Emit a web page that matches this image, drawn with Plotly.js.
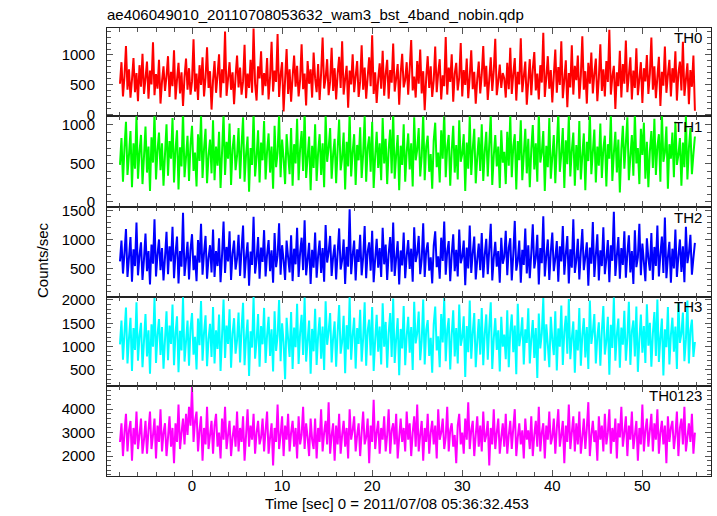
<!DOCTYPE html>
<html>
<head>
<meta charset="utf-8">
<script src="https://cdn.plot.ly/plotly-3.0.1.min.js"></script>
<style>html,body{margin:0;padding:0;background:#fff;}#chart{width:717px;height:516px;}</style>
</head>
<body>
<div id="chart"></div>
<script>
// Light-curve bins: start time and bin width (seconds)
const tStart = -8;
const binSec = 1 / 6;

const bandNames = ["TH0", "TH1", "TH2", "TH3", "TH0123"];
const bandColors = ["#ff0000", "#00ff00", "#0000ff", "#00ffff", "#ff00ff"];

const th0 = [
520,880,310,640,1150,420,760,290,590,950,380,700,230,830,470,1020,
350,610,890,270,740,510,1210,330,680,440,920,190,560,810,400,650,
980,300,720,480,1080,260,590,870,360,710,150,630,940,420,780,340,
560,1260,390,690,250,830,500,960,310,620,1130,450,730,90,580,900,
370,660,1010,290,760,530,1390,320,600,880,420,710,180,640,990,460,
790,340,560,1170,280,690,450,920,370,1440,520,240,810,610,1060,330,
700,480,950,260,630,1220,390,740,550,1350,300,670,880,60,590,1100,
350,760,220,640,990,470,820,310,580,1180,430,690,160,900,520,760,
290,1040,610,380,850,250,700,1290,440,620,930,330,560,1120,400,780,
260,690,970,450,1230,340,600,820,120,740,510,1010,380,650,900,300,
560,1160,420,790,270,630,960,480,1330,350,710,200,590,860,440,1070,
320,680,920,270,750,540,1190,390,610,850,170,700,1020,460,580,880,
340,770,1250,410,640,290,900,520,1090,360,730,80,620,980,450,810,
300,570,1140,380,700,930,260,660,480,1300,340,790,550,1010,220,690,
870,410,620,1200,310,750,500,940,280,640,1080,430,720,190,600,890,
360,680,1150,470,820,250,590,960,400,730,1270,330,560,840,450,700,
610,290,870,430,1120,350,680,950,240,720,510,1280,380,640,890,170,
560,930,330,760,1050,410,690,260,830,540,1370,300,620,980,440,750,
210,660,1090,370,800,500,1230,280,590,910,130,700,460,1160,340,820,
580,990,270,650,1310,420,730,190,870,520,1040,360,690,940,230,610,
1180,400,760,310,900,550,1420,340,640,820,100,710,480,1070,290,850,
520,1240,380,670,960,260,740,450,1110,330,600,880,200,780,560,1000,
350,690,1290,420,810,280,630,970,150,720,490,1140,370,660,920,310,
780,540,1060,240,700,890,410,1220,320,590,860,180,750,470,990,70
];
const th1 = [
480,830,260,700,1040,350,610,920,190,760,430,1120,300,650,870,230,
590,980,380,720,140,840,510,1160,290,670,900,410,760,210,620,1010,
340,790,560,1090,250,680,930,160,710,460,1180,320,580,860,270,740,
990,400,640,200,880,530,1130,310,690,950,240,600,810,370,1060,280,
720,470,910,180,650,1150,350,780,560,1020,220,690,870,410,600,960,
300,740,1100,260,620,850,130,700,480,1170,330,580,930,250,770,540,
1050,290,660,890,380,720,170,990,450,640,1140,320,810,560,230,880,
610,360,960,210,750,500,1080,280,690,920,400,1190,310,580,850,150,
730,440,1010,270,640,880,350,760,190,1130,520,700,960,300,620,820,
240,690,1070,410,570,900,160,780,460,1160,330,650,880,220,740,540,
970,310,620,1120,260,700,850,390,1040,180,590,910,440,760,280,1090,
500,820,230,680,940,370,1170,300,610,870,150,730,480,1010,260,650,
890,420,760,200,1100,540,680,960,330,590,1150,280,720,860,390,620,
170,800,1030,450,640,250,930,560,1180,320,710,870,210,660,990,380,
740,290,1060,520,620,880,140,770,430,1120,350,690,950,240,580,840,
400,1010,270,660,910,330,750,1140,220,600,870,460,720,180,930,510,
650,230,910,470,1130,320,720,880,160,790,540,1060,280,610,950,370,
820,190,680,1000,420,760,260,1150,510,640,920,140,730,450,1090,300,
580,870,240,710,1170,390,620,960,180,800,490,1120,330,670,900,210,
740,410,1050,290,600,890,150,780,530,1180,360,650,940,250,720,470,
1020,310,690,860,200,750,560,1140,270,630,910,380,810,120,680,990,
430,760,1100,280,590,870,340,1160,500,700,230,950,610,1030,300,780,
190,660,920,440,1080,350,720,880,260,1170,520,640,980,170,750,560,
900,320,1040,480,610,830,210,770,450,1130,290,700,960,360,620,850
];
const th2 = [
620,980,410,760,1180,350,690,1040,270,830,540,1290,380,720,950,300,
660,1100,450,800,220,910,580,1350,360,740,1000,470,850,290,690,1130,
400,880,620,1220,330,760,1050,240,800,530,1460,370,650,960,310,820,
1090,470,720,280,990,600,1270,390,770,1060,320,680,900,430,1170,350,
800,540,1020,260,730,1310,420,870,620,1140,300,760,980,480,670,1080,
370,830,1240,330,700,950,200,790,560,1390,410,650,1040,320,860,610,
1160,360,740,990,450,810,250,1110,520,720,1280,390,900,640,300,980,
690,430,1070,280,840,570,1200,350,770,1030,470,1330,380,650,940,230,
820,510,1120,340,720,980,420,850,270,1250,600,780,1060,370,700,910,
310,770,1190,480,640,1000,230,870,530,1520,400,730,980,290,830,610,
1080,380,690,1230,330,790,950,460,1150,260,660,1010,510,850,350,1200,
570,910,300,760,1040,440,1290,370,680,970,220,810,550,1120,330,720,
990,490,840,270,1210,610,760,1060,400,660,1280,350,800,950,460,690,
240,890,1140,520,710,320,1030,630,1310,390,790,970,280,740,1090,450,
820,360,1170,590,700,980,210,860,500,1240,420,770,1050,310,650,930,
470,1110,340,740,1010,400,830,1270,290,680,960,530,800,250,1030,580,
700,1150,380,860,1020,290,740,1320,460,630,980,250,820,560,1190,410,
900,330,760,1260,500,680,1080,220,850,590,1400,360,710,1000,300,790,
1120,450,670,970,270,880,620,1230,390,750,1060,240,830,510,1350,420,
640,1010,310,780,1180,470,700,950,200,860,580,1300,350,730,1090,290,
810,540,1210,400,660,990,260,900,630,1480,370,720,1040,320,850,560,
1140,340,760,1070,430,800,230,1160,520,690,1270,380,930,610,280,1020,
670,460,1110,300,870,540,1240,360,740,1050,420,1380,330,690,960,250,
840,500,1170,350,710,1000,440,880,260,1220,590,760,1080,390,680,940
];
const th3 = [
1050,1560,720,1290,1840,640,1180,1620,480,1400,930,1950,700,1230,1510,560,
1120,1700,790,1350,420,1480,1000,2040,650,1260,1590,820,1420,530,1150,1760,
710,1450,1060,1900,600,1290,1650,450,1340,920,2060,680,1110,1560,590,1380,
1720,830,1210,510,1600,1030,1980,700,1300,1670,580,1160,1490,780,1850,640,
1350,950,1690,480,1240,2010,760,1450,1060,1800,550,1280,1610,850,1140,1730,
660,1390,1940,600,1200,1580,370,1330,980,2070,740,1120,1700,570,1440,1050,
1830,650,1250,1640,800,1370,470,1760,910,1230,2000,690,1500,1090,300,1620,
1170,780,1740,520,1410,990,1920,630,1300,1680,820,2050,680,1130,1560,420,
1380,900,1810,610,1240,1630,740,1430,500,1970,1040,1330,1720,660,1190,1540,
570,1310,1890,850,1100,1660,430,1460,940,2060,720,1250,1620,530,1400,1060,
1790,680,1180,1950,590,1340,1580,810,1850,480,1140,1680,890,1430,620,1930,
1000,1530,550,1300,1720,780,2030,650,1170,1610,390,1380,960,1870,600,1240,
1640,870,1420,500,1960,1070,1290,1750,710,1130,2010,620,1360,1570,800,1190,
440,1480,1860,920,1220,560,1700,1090,2040,690,1350,1610,510,1260,1780,790,
1400,640,1900,1020,1200,1650,350,1440,880,1990,740,1300,1720,560,1110,1590,
830,1830,600,1280,1690,720,1420,1950,520,1170,1610,930,1350,470,1640,1000,
1260,730,1780,560,1330,1690,880,1450,410,1920,1010,1240,1630,620,1370,1080,
1820,640,1160,1570,760,1400,330,1710,960,1280,2040,700,1480,1050,560,1640,
1150,820,1760,490,1390,1000,1880,610,1320,1660,850,2020,730,1180,1540,440,
1360,920,1830,590,1250,1610,770,1420,520,1990,1060,1310,1700,640,1210,1520,
590,1340,1870,830,1120,1640,400,1470,970,2050,700,1260,1600,550,1410,1040,
1770,700,1190,1960,610,1330,1560,790,1860,460,1160,1690,870,1440,650,1910,
1020,1510,570,1290,1740,800,2010,670,1190,1600,380,1370,990,1850,620,1250,
1620,890,1430,520,1940,1080,1280,1730,690,1150,1990,640,1350,1580,780,1100
];
const th0123 = [
2600,3400,2000,3000,3800,2200,3100,3500,1800,3200,2500,3900,2300,2900,3600,2100,
2700,3500,2100,3100,3900,2300,2900,3600,1900,3300,2600,4000,2200,3000,3400,2000,
2800,3700,2400,3200,1700,3400,2600,4200,2300,3000,3600,2500,3800,2900,4100,3300,
4950,2600,3500,3900,2200,3100,3700,1800,3200,2500,4100,2300,2900,3500,2100,3300,
3800,2400,3000,1900,3600,2700,4100,2300,2900,3500,2000,2800,3300,2400,3900,2200,
3200,2600,3700,1800,2900,4000,2400,3300,2700,3800,2100,3000,3500,2500,2800,3600,
2200,3100,3900,2100,2800,3400,1600,3200,2600,4200,2300,2900,3700,2000,3300,2700,
3800,2200,3000,3500,2400,3200,1900,3700,2500,2900,4100,2300,3400,2800,2000,3600,
2700,2300,3600,1900,3200,2600,4000,2200,3000,3500,2500,4300,2100,2900,3400,1800,
3300,2500,3800,2100,2900,3500,2400,3200,1900,4000,2700,3100,3700,2200,2900,3400,
2000,3000,3900,2500,2800,3600,1700,3300,2600,4400,2300,3000,3500,2100,3200,2700,
3700,2200,2900,4000,2100,3100,3400,2500,3800,1900,2800,3600,2600,3200,2200,3900,
2700,3400,2000,3000,3700,2400,4200,2200,2900,3500,1800,3200,2600,3800,2100,3000,
3500,2500,3300,1900,4000,2700,3000,3600,2300,2800,4100,2200,3100,3400,2400,2900,
1700,3300,3800,2500,3000,2100,3600,2700,4300,2300,3100,3500,2000,2900,3700,2400,
3300,2200,3900,2600,2900,3500,1600,3200,2500,4000,2300,3000,3600,2100,2800,3400,
2400,3800,2100,2900,3500,2300,3200,4000,2000,2800,3400,2500,3100,1900,3600,2700,
3100,2300,3700,2000,2900,3500,2400,4100,2200,3000,3400,1900,3300,2700,3900,2500,
2800,3600,2100,3200,4000,2400,2900,3500,1700,3300,2600,4200,2300,3000,3700,2200,
3400,2500,3900,2100,2800,3600,2300,3200,4300,2000,2900,3500,2600,3100,1800,3700,
2700,3300,2200,3800,2500,3000,4000,2100,3200,2600,3600,1900,3400,2800,4100,2400,
3000,3700,2000,3300,2700,3900,2300,2900,3500,1800,3200,2500,4200,2200,3100,3600,
2400,3100,3800,2200,3400,2700,4000,2100,3000,3500,2500,3300,1700,3700,2600,3200,
3500,2300,2900,3900,2000,3200,3600,2500,4100,2200,2800,3400,2600,3800,2100,3000
];

const series = [th0, th1, th2, th3, th0123];
const yRanges = [[-22, 1450], [-71, 1113], [10, 1557], [157, 2070], [1150, 4990]];
const yDticks = [500, 500, 500, 500, 1000];
const yMinor = [100, 100, 100, 100, 200];
const domains = [[0.8029, 1], [0.6, 0.8029], [0.4002, 0.6], [0.2009, 0.4002], [0, 0.2009]];
const labelY = [0.9777, 0.7806, 0.5777, 0.3779, 0.1786];

const xRange = [-9.44, 57.62];
const font = "Liberation Sans, Arial, Helvetica, sans-serif";

const traces = series.map((vals, i) => ({
  type: "scatter",
  mode: "lines",
  x: vals.map((_, k) => tStart + k * binSec),
  y: vals,
  xaxis: "x" + (i === 0 ? "" : i + 1),
  yaxis: "y" + (i === 0 ? "" : i + 1),
  line: {color: bandColors[i], width: 2, simplify: false},
  hoverinfo: "skip",
  showlegend: false
}));

const layout = {
  width: 717, height: 516,
  margin: {l: 107, r: 6, t: 28, b: 40, pad: 0},
  paper_bgcolor: "#ffffff",
  plot_bgcolor: "#ffffff",
  font: {family: font, size: 15, color: "#000"},
  title: {
    text: "ae406049010_20110708053632_wam3_bst_4band_nobin.qdp",
    x: 107 / 717, xanchor: "left", xref: "container",
    y: 1 - 15 / 516, yanchor: "middle", yref: "container",
    font: {family: font, size: 15, color: "#000"}
  },
  annotations: [],
  showlegend: false
};

for (let i = 0; i < 5; i++) {
  const sx = i === 0 ? "" : String(i + 1);
  const last = i === 4;
  layout["xaxis" + sx] = {
    domain: [0, 1],
    anchor: "y" + sx,
    range: xRange,
    matches: i === 4 ? undefined : "x5",
    showgrid: false, zeroline: false,
    showline: true, linecolor: "#222", linewidth: 1, mirror: "allticks",
    ticks: "inside", ticklen: 6, tickwidth: 1, tickcolor: "#555",
    dtick: 10, tick0: 0,
    minor: {dtick: 2, tick0: 0, ticks: "inside", ticklen: 4, tickwidth: 1, tickcolor: "#555", showgrid: false},
    showticklabels: last,
    ticklabelstandoff: -4,
    tickfont: {family: font, size: 15, color: "#000"}
  };
  layout["yaxis" + sx] = {
    domain: domains[i],
    anchor: "x" + sx,
    range: yRanges[i],
    showgrid: false, zeroline: false,
    showline: true, linecolor: "#222", linewidth: 1, mirror: "allticks",
    ticks: "inside", ticklen: 6, tickwidth: 1, tickcolor: "#555",
    dtick: yDticks[i], tick0: 0,
    minor: {dtick: yMinor[i], tick0: 0, ticks: "inside", ticklen: 4, tickwidth: 1, tickcolor: "#555", showgrid: false},
    ticklabelstandoff: 8,
    tickfont: {family: font, size: 15, color: "#000"}
  };
  layout.annotations.push({
    text: bandNames[i], xref: "paper", yref: "paper",
    x: (704 - 107) / 604, xanchor: "right",
    y: labelY[i], yanchor: "middle",
    showarrow: false, font: {family: font, size: 15, color: "#000"}
  });
}

layout.annotations.push({
  text: "Counts/sec", xref: "paper", yref: "paper",
  x: (42 - 107) / 604, xanchor: "center",
  y: (476 - 260) / 448, yanchor: "middle",
  textangle: -90, showarrow: false,
  font: {family: font, size: 15, color: "#000"}
});
layout.annotations.push({
  text: "Time [sec] 0 = 2011/07/08 05:36:32.453", xref: "paper", yref: "paper",
  x: (397 - 107) / 604, xanchor: "center",
  y: (476 - 503) / 448, yanchor: "middle",
  showarrow: false,
  font: {family: font, size: 15, color: "#000"}
});

Plotly.newPlot("chart", traces, layout, {displayModeBar: false, staticPlot: true});
</script>
</body>
</html>
